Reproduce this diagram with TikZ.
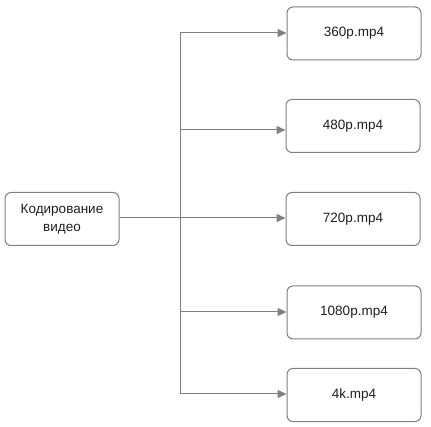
\documentclass[tikz,border=0pt]{standalone}
\usepackage{fontspec}
\setmainfont{Liberation Sans}
\usetikzlibrary{arrows.meta}
\definecolor{edgegray}{RGB}{128,128,128}
\definecolor{textdark}{RGB}{30,30,30}
\tikzstyle{block} = [rectangle, draw=edgegray, line width=1pt, rounded corners=6pt,
    text=textdark, minimum width=134pt, minimum height=53pt, align=center,
    font=\fontsize{13.5}{18.5}\selectfont]
\tikzstyle{link} = [draw=edgegray, line width=1pt]

\begin{document}
\begin{tikzpicture}[x=1pt,y=-1pt,>={Triangle[length=9pt,width=8pt]}]
  \useasboundingbox (0,0) rectangle (431,427);

  \node[block, minimum width=114pt] (enc) at (62,219) {Кодирование\\видео};
  \node[block]  (r360) at (354,33.5)  {360p.mp4};
  \node[block]  (r480) at (353,126)   {480p.mp4};
  \node[block]  (r720) at (353,219)   {720p.mp4};
  \node[block]  (r1080) at (354,312.5) {1080p.mp4};
  \node[block]  (r4k)  at (354,395)   {4k.mp4};

  \coordinate (c360)  at (180,33);
  \coordinate (c480)  at (180,130);
  \coordinate (c720)  at (180,218);
  \coordinate (c1080) at (180,312);
  \coordinate (c4k)   at (180,394);

  \draw[link] (c360) -- (c4k);
  \draw[link] (enc.east |- c720) -- (c720);
  \foreach \r in {360,480,720,1080,4k}
    \draw[link,->,edgegray] (c\r) -- (c\r -| r\r.west);
\end{tikzpicture}
\end{document}
